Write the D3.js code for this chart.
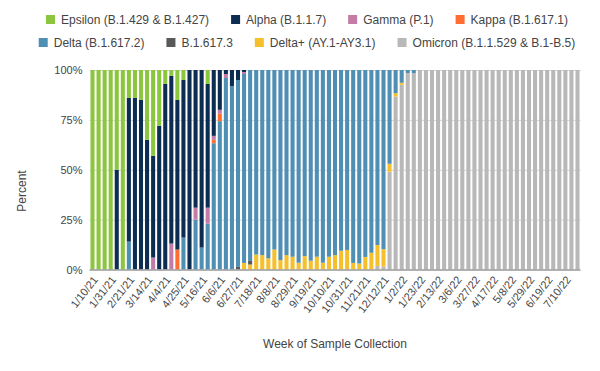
<!DOCTYPE html>
<html><head><meta charset="utf-8">
<script src="https://cdn.jsdelivr.net/npm/d3@7"></script>
<style>
body{margin:0;background:#fff;}
svg{display:block;font-family:"Liberation Sans",Arial,sans-serif;}
</style></head><body>
<svg id="chart" width="600" height="371"></svg>
<script>
const weeks = ["1/10/21","1/17/21","1/24/21","1/31/21","2/7/21","2/14/21","2/21/21","2/28/21","3/7/21","3/14/21",
"3/21/21","3/28/21","4/4/21","4/11/21","4/18/21","4/25/21","5/2/21","5/9/21","5/16/21","5/23/21",
"5/30/21","6/6/21","6/13/21","6/20/21","6/27/21","7/4/21","7/11/21","7/18/21","7/25/21","8/1/21",
"8/8/21","8/15/21","8/22/21","8/29/21","9/5/21","9/12/21","9/19/21","9/26/21","10/3/21","10/10/21",
"10/17/21","10/24/21","10/31/21","11/7/21","11/14/21","11/21/21","11/28/21","12/5/21","12/12/21","12/19/21",
"12/26/21","1/2/22","1/9/22","1/16/22","1/23/22","1/30/22","2/6/22","2/13/22","2/20/22","2/27/22",
"3/6/22","3/13/22","3/20/22","3/27/22","4/3/22","4/10/22","4/17/22","4/24/22","5/1/22","5/8/22",
"5/15/22","5/22/22","5/29/22","6/5/22","6/12/22","6/19/22","6/26/22","7/3/22","7/10/22","7/17/22","7/24/22"];

const tickLabels = ["1/10/21","1/31/21","2/21/21","3/14/21","4/4/21","4/25/21","5/16/21","6/6/21","6/27/21",
"7/18/21","8/8/21","8/29/21","9/19/21","10/10/21","10/31/21","11/21/21","12/12/21","1/2/22","1/23/22",
"2/13/22","3/6/22","3/27/22","4/17/22","5/8/22","5/29/22","6/19/22","7/10/22"];

const yTicks = [0, 25, 50, 75, 100];

const seriesNames = ["Epsilon (B.1.429 & B.1.427)","Alpha (B.1.1.7)","Gamma (P.1)","Kappa (B.1.617.1)",
"Delta (B.1.617.2)","B.1.617.3","Delta+ (AY.1-AY3.1)","Omicron (B.1.1.529 & B.1-B.5)"];
const seriesColors = ["#8cc63f","#0c2c52","#c47ba5","#ff6d31","#4f8fb4","#595959","#f5c02c","#b8b8b8"];

// values (% of samples) per week, index aligned with weeks
const epsilon = [100,100,100,100,50,100,14,14,15,35, 43,28,7,3,15,5,0,0,0,7,
 0,0,0,0,0,0,0,0,0,0, 0,0,0,0,0,0,0,0,0,0, 0,0,0,0,0,0,0,0,0,0,
 0,0,0,0,0,0,0,0,0,0, 0,0,0,0,0,0,0,0,0,0, 0,0,0,0,0,0,0,0,0,0, 0];
const alpha = [0,0,0,0,50,0,72,86,85,65, 51,72,93,84,75,79,100,69,89,62,
 33,20,2,8,5,1,0,0,0,0, 0,0,0,0,0,0,0,0,0,0, 0,0,0,0,0,0,0,0,0,0,
 0,0,0,0,0,0,0,0,0,0, 0,0,0,0,0,0,0,0,0,0, 0,0,0,0,0,0,0,0,0,0, 0];
const gamma = [0,0,0,0,0,0,0,0,0,0, 6,0,0,13,0,0,0,6,0,8,
 2,2,2,0,0,1,0,0,0,0, 0,0,0,0,0,0,0,0,0,0, 0,0,0,0,0,0,0,0,0,0,
 0,0,0,0,0,0,0,0,0,0, 0,0,0,0,0,0,0,0,0,0, 0,0,0,0,0,0,0,0,0,0, 0];
const kappa = [0,0,0,0,0,0,0,0,0,0, 0,0,0,0,10,0,0,0,0,0,
 1.7,3.7,0,0,0,0,0,0,0,0, 0,0,0,0,0,0,0,0,0,0, 0,0,0,0,0,0,0,0,0,0,
 0,0,0,0,0,0,0,0,0,0, 0,0,0,0,0,0,0,0,0,0, 0,0,0,0,0,0,0,0,0,0, 0];
const delta = [0,0,0,0,0,0,14,0,0,0, 0,0,0,0,0,16,0,25,11,23,
 63.3,74.6,96,92,93.7,95,95.7,92.5,92.8,94.4, 90,95.3,92.8,93.6,96.6,93.3,95.6,93.6,96.6,93.6,
 92.8,90.6,90.2,96.7,97,93.7,91.6,87.7,89.8,47, 11.6,6.4,1.5,1.5,0,0,0,0,0,0,
 0,0,0,0,0,0,0,0,0,0, 0,0,0,0,0,0,0,0,0,0, 0];
const b16173 = [0,0,0,0,0,0,0,0,0,0, 0,0,0,0,0,0,0,0,0,0,
 0,0,0,0,1.3,0,1.8,0,0,0, 0,0,0,0,0,0,0,0,0,0, 0,0,0,0,0,0,0,0,0,0,
 0,0,0,0,0,0,0,0,0,0, 0,0,0,0,0,0,0,0,0,0, 0,0,0,0,0,0,0,0,0,0, 0];
const deltaPlus = [0,0,0,0,0,0,0,0,0,0, 0,0,0,0,0,0,0,0,0,0,
 0,0,0,0,0,3.3,2.5,7.5,7.2,5.6, 10,4.7,7.2,6.4,3.4,6.7,4.4,6.4,3.4,6.4,
 7.2,9.4,9.8,3.3,3,6.3,8.4,10.5,8.7,4, 1.7,1,0,0,0,0,0,0,0,0,
 0,0,0,0,0,0,0,0,0,0, 0,0,0,0,0,0,0,0,0,0, 0];
const omicron = [0,0,0,0,0,0,0,0,0,0, 0,0,0,0,0,0,0,0,0,0,
 0,0,0,0,0,0,0,0,0,0, 0,0,0,0,0,0,0,0,0,0, 0,0,0,0,0,0,0,1.8,1.5,49,
 86.7,92.6,98.5,98.5,100,100,100,100,100,100, 100,100,100,100,100,100,100,100,100,100,
 100,100,100,100,100,100,100,100,100,100, 100];

const seriesValues = [epsilon, alpha, gamma, kappa, delta, b16173, deltaPlus, omicron];

const rows = weeks.map((w, i) => {
  const r = {week: w};
  seriesNames.forEach((n, k) => r[n] = seriesValues[k][i]);
  return r;
});

const svg = d3.select("#chart");
const M = {left: 89.5, right: 580.5, top: 70, bottom: 269.5};

const x = d3.scaleBand().domain(weeks).range([M.left, M.right]).paddingInner(0.33).paddingOuter(0.16);
const y = d3.scaleLinear().domain([0, 1]).range([M.bottom, M.top]);
const yPct = d3.scaleLinear().domain([0, 100]).range([M.bottom, M.top]);

// gridlines
const grid = svg.append("g").attr("transform", `translate(${M.left},0)`)
  .call(d3.axisLeft(yPct).tickValues(yTicks.filter(t => t > 0)).tickSize(-(M.right - M.left)).tickFormat(""));
grid.select(".domain").remove();
grid.selectAll("line").attr("stroke", "#d6d6d6").attr("stroke-width", 1);

// stacked bars: bottom to top = Omicron ... Epsilon
const stackKeys = seriesNames.slice().reverse();
const stack = d3.stack().keys(stackKeys).offset(d3.stackOffsetExpand);
const layers = stack(rows);
const colorOf = d3.scaleOrdinal().domain(seriesNames).range(seriesColors);

svg.append("g").selectAll("g").data(layers).join("g")
  .attr("fill", d => colorOf(d.key))
  .selectAll("rect").data(d => d).join("rect")
  .attr("x", d => x(d.data.week))
  .attr("width", x.bandwidth())
  .attr("y", d => y(d[1]))
  .attr("height", d => Math.max(0, y(d[0]) - y(d[1])));

// y axis labels
const yAxis = svg.append("g").attr("transform", `translate(${M.left},0)`)
  .call(d3.axisLeft(yPct).tickValues(yTicks).tickSize(0).tickPadding(7).tickFormat(d => d + "%"));
yAxis.select(".domain").remove();
yAxis.selectAll("text").attr("fill", "#444").style("font-size", "11px").style("font-family", "'Liberation Sans',Arial,sans-serif");

// x axis
const xAxis = svg.append("g").attr("transform", `translate(0,${M.bottom})`)
  .call(d3.axisBottom(x).tickValues(tickLabels).tickSize(0).tickSizeOuter(0));
xAxis.select(".domain").attr("stroke", "#999").attr("stroke-width", 1.5)
  .attr("d", `M${M.left},0.5H${M.right}`);
xAxis.selectAll("text")
  .attr("fill", "#444").style("font-size", "11px").style("font-family", "'Liberation Sans',Arial,sans-serif")
  .attr("text-anchor", "end").attr("dy", "0.35em")
  .attr("transform", "translate(3,8) rotate(-52)")
  .attr("y", 0).attr("x", 0);

// axis titles
svg.append("text").attr("x", 335).attr("y", 348).attr("text-anchor", "middle")
  .attr("fill", "#444").style("font-size", "12px").text("Week of Sample Collection");
svg.append("text").attr("transform", "translate(26,191) rotate(-90)").attr("text-anchor", "middle")
  .attr("fill", "#444").style("font-size", "12px").text("Percent");

// legend
const legendRows = [[0,1,2,3],[4,5,6,7]];
const legendY = [20, 43];
const lg = svg.append("g");
legendRows.forEach((idxs, r) => {
  const items = idxs.map(k => {
    const g = lg.append("g");
    g.append("rect").attr("width", 9).attr("height", 9).attr("y", -5).attr("fill", seriesColors[k]);
    const t = g.append("text").attr("x", 15).attr("dy", "0.35em").attr("fill", "#444")
      .style("font-size", "12px").text(seriesNames[k]);
    return {g, w: 15 + t.node().getComputedTextLength()};
  });
  const gap = 22;
  const total = d3.sum(items, d => d.w) + gap * (items.length - 1);
  let cx = 307 - total / 2;
  items.forEach(it => { it.g.attr("transform", `translate(${cx},${legendY[r]})`); cx += it.w + gap; });
});
</script>
</body></html>
